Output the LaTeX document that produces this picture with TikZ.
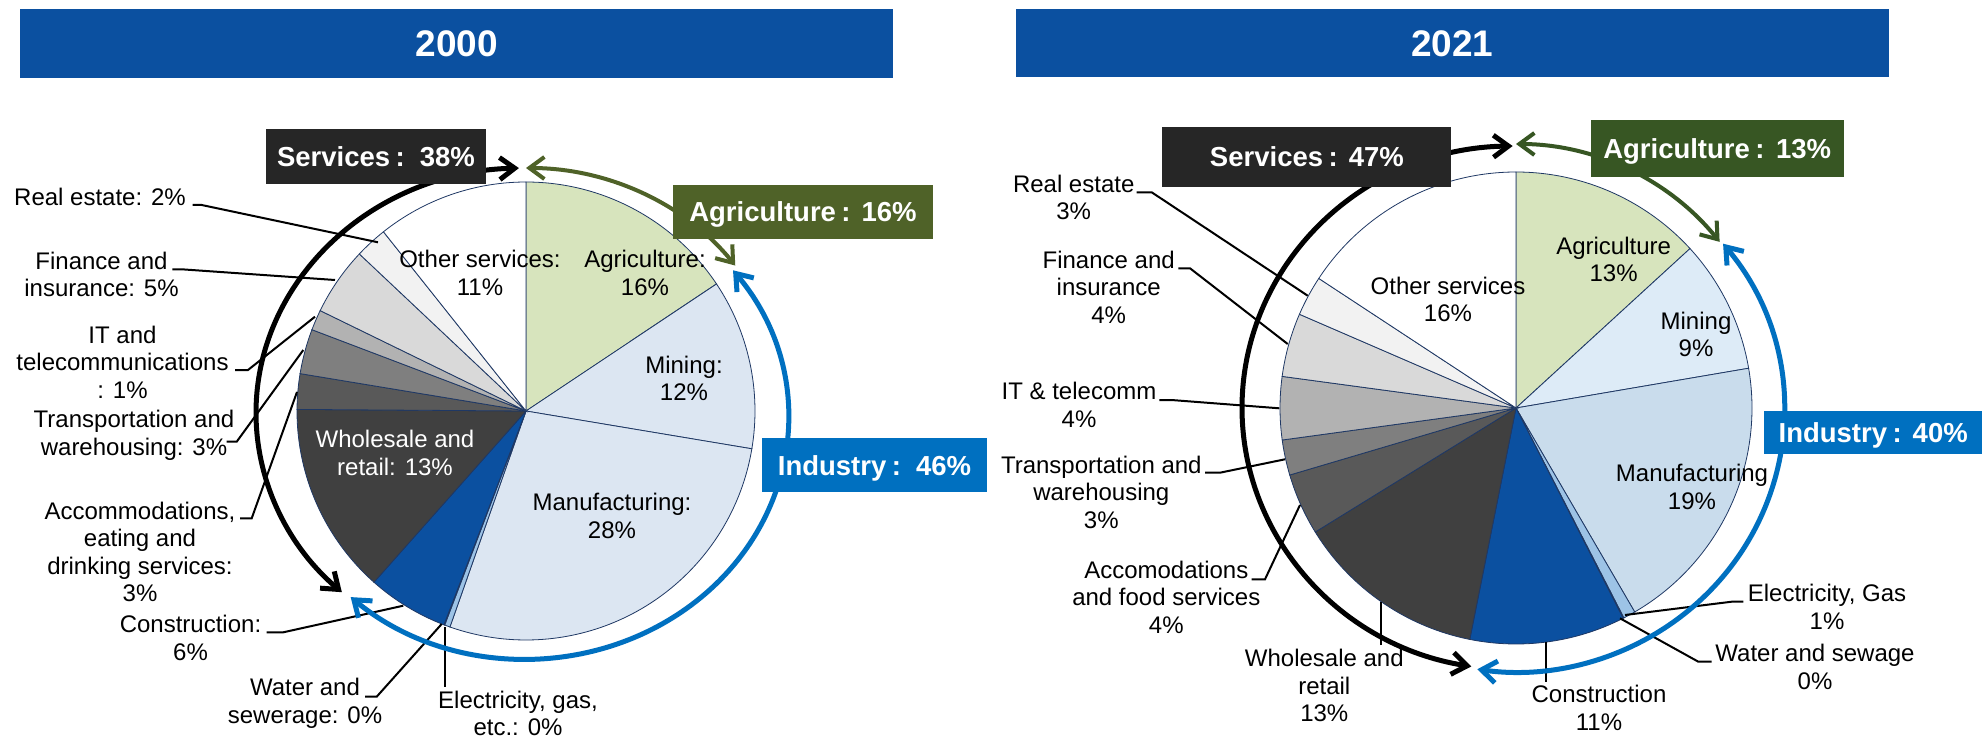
\documentclass[tikz,border=0pt]{standalone}
\usepackage{fontspec}
\setmainfont{Liberation Sans}
\usetikzlibrary{arrows.meta}
\definecolor{barblue}{RGB}{11,80,160}
\definecolor{edgenavy}{RGB}{31,56,100}
\definecolor{agri}{RGB}{215,228,189}
\definecolor{indL}{RGB}{220,230,242}
\definecolor{minR}{RGB}{221,235,247}
\definecolor{manR}{RGB}{201,220,236}
\definecolor{elec}{RGB}{157,195,230}
\definecolor{gA}{RGB}{64,64,64}
\definecolor{gB}{RGB}{89,89,89}
\definecolor{gC}{RGB}{127,127,127}
\definecolor{gD}{RGB}{178,178,178}
\definecolor{gE}{RGB}{217,217,217}
\definecolor{gF}{RGB}{242,242,242}
\definecolor{servbox}{RGB}{38,38,38}
\definecolor{agriboxL}{RGB}{79,98,40}
\definecolor{agriboxR}{RGB}{55,86,35}
\definecolor{indbox}{RGB}{0,112,192}
\newcommand{\pieslice}[5]{\filldraw[slice, fill=#5] (#1) -- ++({#3-90}:#2) arc[start angle={#3-90}, end angle={#4-90}, radius=#2] -- cycle;}
\begin{document}
\begin{tikzpicture}[x=1pt, y=-1pt,
  slice/.style={draw=edgenavy, line width=0.8pt},
  lbl/.style={inner sep=0pt, align=center, font=\fontsize{24}{27.5}\selectfont, anchor=base},
  lead/.style={draw=black, line width=2pt},
  titlebar/.style={fill=barblue, text=white, font=\fontsize{37}{44}\selectfont\bfseries, inner sep=0pt, text height=27pt, text depth=0pt},
  tag/.style={text=white, font=\fontsize{27.5}{33}\selectfont\bfseries, inner sep=0pt, text height=20pt, text depth=0pt},
  >={Straight Barb[length=15pt,width=22pt]},
  sarc/.style={draw=black, line width=5pt, <->},
  garcL/.style={draw=agriboxL, line width=4pt, <->},
  garcR/.style={draw=agriboxR, line width=4pt, <->},
  barc/.style={draw=indbox, line width=5pt, <->}]
\useasboundingbox (0,0) rectangle (1982,738);
\fill[white] (0,0) rectangle (1982,738);

% titles
\node[titlebar, minimum width=872.7pt, minimum height=69pt] (tL) at (456.6,43.5) {2000};
\node[titlebar, minimum width=872.6pt, minimum height=68pt] (tR) at (1452.3,43) {2021};

% ===== left pie =====
\coordinate (cL) at (526,411);
\pieslice{cL}{229}{0}{56.3}{agri}
\pieslice{cL}{229}{56.3}{99.5}{indL}
\pieslice{cL}{229}{99.5}{199.4}{indL}
\pieslice{cL}{229}{199.4}{200.8}{elec}
\pieslice{cL}{229}{200.8}{201.0}{elec}
\pieslice{cL}{229}{201.0}{221.6}{barblue}
\pieslice{cL}{229}{221.6}{270.4}{gA}
\pieslice{cL}{229}{270.4}{279.4}{gB}
\pieslice{cL}{229}{279.4}{290.8}{gC}
\pieslice{cL}{229}{290.8}{296.0}{gD}
\pieslice{cL}{229}{296.0}{313.3}{gE}
\pieslice{cL}{229}{313.3}{321.5}{gF}
\pieslice{cL}{229}{321.5}{360}{white}

% (anchor = baseline of the last line)
\node[lbl] (iOSL) at (480,295) {Other services:\\11\%};
\node[lbl] (iAGL) at (645,295) {Agriculture:\\16\%};
\node[lbl] (iMIL) at (684,400.7) {Mining:\\12\%};
\node[lbl] (iMAL) at (612,538.3) {Manufacturing:\\28\%};
\node[lbl, text=white] (iWHL) at (395,475) {Wholesale and\\retail: 13\%};

\node[lbl] (lRE) at (100,206) {Real estate: 2\%};
\node[lbl] (lFI) at (101.5,296.7) {Finance and\\insurance: 5\%};
\node[lbl] (lIT) at (122.5,398.3) {IT and\\telecommunications\\: 1\%};
\node[lbl] (lTR) at (134,455) {Transportation and\\warehousing: 3\%};
\node[lbl] (lAC) at (140,601.7) {Accommodations,\\eating and\\drinking services:\\3\%};
\node[lbl] (lCO) at (190.5,660) {Construction:\\6\%};
\node[lbl] (lWA) at (305,723.3) {Water and\\sewerage: 0\%};
\node[lbl] (lEL) at (518,735.5) {Electricity, gas,\\etc.: 0\%};

\coordinate (aRE) at (192.7,205);   \coordinate (pRE) at (378,242.3);
\coordinate (aFI) at (172.3,269.3); \coordinate (pFI) at (335,280);
\coordinate (aIT) at (235,370);     \coordinate (pIT) at (315,316.7);
\coordinate (aTR) at (226.7,441.7); \coordinate (pTR) at (303.3,350);
\coordinate (aAC) at (240,518.3);   \coordinate (pAC) at (297,392);
\coordinate (aCO) at (266.7,632.3); \coordinate (pCO) at (403.3,605.7);
\coordinate (aWA) at (365,696.7);   \coordinate (pWA) at (441.7,624);
\coordinate (aEL) at (445,686.7);   \coordinate (pEL) at (445,626.7);
\draw[lead] (aRE) -- ++(9,0) -- (pRE);
\draw[lead] (aFI) -- ++(9.4,0) -- (pFI);
\draw[lead] (aIT) -- ++(13,0) -- (pIT);
\draw[lead] (aTR) -- ++(10,0) -- (pTR);
\draw[lead] (aAC) -- ++(11.7,0) -- (pAC);
\draw[lead] (aCO) -- ++(16.6,0) -- (pCO);
\draw[lead] (aWA) -- ++(11.7,0) -- (pWA);
\draw[lead] (aEL) -- (pEL);

\coordinate (bL1) at ([shift={(-91.5:270 and 245)}]526,413);
\coordinate (gL1) at ([shift={(-90:262 and 245)}]526,413);
\coordinate (uL1) at ([shift={(-37.8:262 and 241)}]526,418);
\draw[sarc] (bL1) arc[start angle=-91.5, end angle=-227, x radius=270, y radius=245];
\draw[garcL] (gL1) arc[start angle=-90, end angle=-37, x radius=262, y radius=245];
\draw[barc] (uL1) arc[start angle=-37.8, end angle=132, x radius=262, y radius=241];

\node[tag, fill=servbox, minimum width=220pt, minimum height=55pt] (sL) at (376,156.5) {Services\kern0.2em:\kern0.55em38\%};
\node[tag, fill=agriboxL, minimum width=260pt, minimum height=54pt] (aL) at (803,212) {Agriculture\kern0.2em:\kern0.4em16\%};
\node[tag, fill=indbox, minimum width=224.4pt, minimum height=54pt] (nL) at (874.5,465.3) {Industry\kern0.2em:\kern0.55em46\%};

% ===== right pie =====
\coordinate (cR) at (1516,408);
\pieslice{cR}{236}{0}{47.5}{agri}
\pieslice{cR}{236}{47.5}{80.3}{minR}
\pieslice{cR}{236}{80.3}{149.8}{manR}
\pieslice{cR}{236}{149.8}{152.8}{elec}
\pieslice{cR}{236}{152.8}{153.0}{elec}
\pieslice{cR}{236}{153.0}{191.3}{barblue}
\pieslice{cR}{236}{191.3}{238.3}{gA}
\pieslice{cR}{236}{238.3}{253.5}{gB}
\pieslice{cR}{236}{253.5}{262.2}{gC}
\pieslice{cR}{236}{262.2}{277.7}{gD}
\pieslice{cR}{236}{277.7}{293.4}{gE}
\pieslice{cR}{236}{293.4}{303.3}{gF}
\pieslice{cR}{236}{303.3}{360}{white}

\node[lbl] (iOSR) at (1448,321.7) {Other services\\16\%};
\node[lbl] (iAGR) at (1613.6,281.7) {Agriculture\\13\%};
\node[lbl] (iMIR) at (1696,356.7) {Mining\\9\%};
\node[lbl] (iMAR) at (1692,509.3) {Manufacturing\\19\%};

\node[lbl] (rRE) at (1073.7,220) {Real estate\\3\%};
\node[lbl] (rFI) at (1108.7,323.3) {Finance and\\insurance\\4\%};
\node[lbl] (rIT) at (1079,427.3) {IT \& telecomm\\4\%};
\node[lbl] (rTR) at (1101.3,528.3) {Transportation and\\warehousing\\3\%};
\node[lbl] (rAC) at (1166.3,633.3) {Accomodations\\and food services\\4\%};
\node[lbl] (rWH) at (1324.3,721.7) {Wholesale and\\retail\\13\%};
\node[lbl] (rCO) at (1599,730) {Construction\\11\%};
\node[lbl] (rEL) at (1827,629.3) {Electricity, Gas\\1\%};
\node[lbl] (rWA) at (1815,689.3) {Water and sewage\\0\%};

\coordinate (aRE2) at (1136.7,192.3); \coordinate (pRE2) at (1307.7,295.7);
\coordinate (aFI2) at (1178.3,268.3); \coordinate (pFI2) at (1287.7,344);
\coordinate (aIT2) at (1159.3,400);   \coordinate (pIT2) at (1279.3,408.3);
\coordinate (aTR2) at (1205,472.7);   \coordinate (pTR2) at (1285,459.3);
\coordinate (aAC2) at (1251.7,579.3); \coordinate (pAC2) at (1300,505);
\coordinate (aWH2) at (1380.7,645);   \coordinate (pWH2) at (1380.7,601.7);
\coordinate (aCO2) at (1546.4,681.7); \coordinate (pCO2) at (1546.4,641.7);
\coordinate (aEL2) at (1743.3,601.7); \coordinate (pEL2) at (1625,615);
\coordinate (aWA2) at (1711.7,661.7); \coordinate (pWA2) at (1620,618.3);
\draw[lead] (aRE2) -- ++(15,0) -- (pRE2);
\draw[lead] (aFI2) -- ++(11.7,0) -- (pFI2);
\draw[lead] (aIT2) -- ++(12,0) -- (pIT2);
\draw[lead] (aTR2) -- ++(15,0) -- (pTR2);
\draw[lead] (aAC2) -- ++(13.3,0) -- (pAC2);
\draw[lead] (aWH2) -- (pWH2);
\draw[lead] (aCO2) -- (pCO2);
\draw[lead] (aEL2) -- ++(-11.6,0) -- (pEL2);
\draw[lead] (aWA2) -- ++(-13.4,0) -- (pWA2);

\coordinate (bR1) at ([shift={(-90.7:274 and 262)}]1516,408);
\coordinate (gR1) at ([shift={(-90:262 and 264)}]1516,408);
\coordinate (uR1) at ([shift={(-39.4:268 and 262)}]1516,410);
\draw[sarc] (bR1) arc[start angle=-90.7, end angle=-260.6, x radius=274, y radius=262];
\draw[garcR] (gR1) arc[start angle=-90, end angle=-39, x radius=262, y radius=264];
\draw[barc] (uR1) arc[start angle=-39.4, end angle=98.3, x radius=268, y radius=262];

\node[tag, fill=servbox, minimum width=289pt, minimum height=59.7pt] (sR) at (1306.9,156.9) {Services\kern0.2em:\kern0.4em47\%};
\node[tag, fill=agriboxR, minimum width=252.8pt, minimum height=56.7pt] (aR) at (1717.2,148.3) {Agriculture\kern0.2em:\kern0.42em13\%};
\node[tag, fill=indbox, minimum width=217.7pt, minimum height=43.3pt] (nR) at (1873.2,432.7) {Industry\kern0.2em:\kern0.4em40\%};
\end{tikzpicture}
\end{document}
